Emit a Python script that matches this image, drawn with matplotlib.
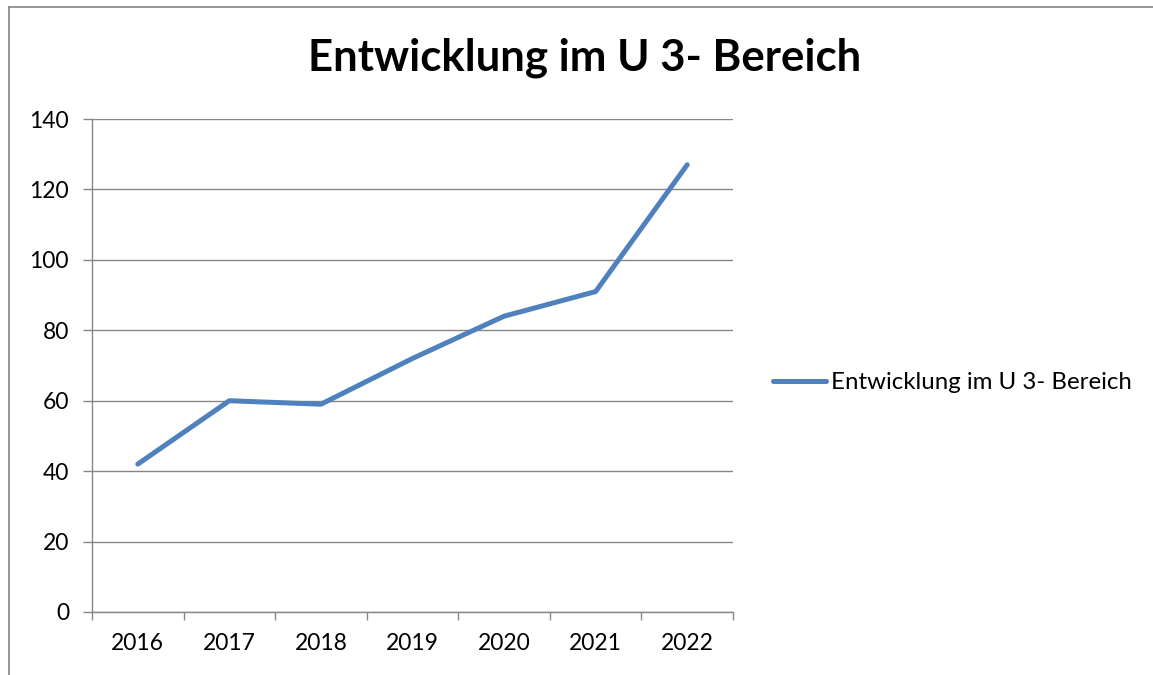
import matplotlib
matplotlib.use("Agg")
import matplotlib.pyplot as plt
from matplotlib.lines import Line2D
import numpy as np

years = ["2016", "2017", "2018", "2019", "2020", "2021", "2022"]
values = [42, 60, 59, 72, 84, 91, 127]
series_name = "Entwicklung im U 3- Bereich"
title = "Entwicklung im U 3- Bereich"

plt.rcParams['font.family'] = ['Lato', 'DejaVu Sans']

W, H = 1153, 675
fig = plt.figure(figsize=(W/100, H/100), dpi=100)
ax = fig.add_axes([92/W, 1 - 612/H, (733-92)/W, (612-119)/H])

grey = "#868686"
x = np.arange(len(years))
line, = ax.plot(x, values, color="#4F81BD", lw=3.6, solid_capstyle="round",
                solid_joinstyle="round", label=series_name)

ax.set_xlim(-0.5, len(years) - 0.5)
ax.set_ylim(0, 140)
ax.set_yticks(np.arange(0, 141, 20))
ax.set_xticks(x)
ax.set_xticklabels(years)
ax.set_xticks(np.arange(-0.5, len(years), 1.0), minor=True)

ax.yaxis.grid(True, color=grey, lw=1.0)
ax.set_axisbelow(True)
for s in ["top", "right"]:
    ax.spines[s].set_visible(False)
for s in ["left", "bottom"]:
    ax.spines[s].set_color(grey)
    ax.spines[s].set_linewidth(1.0)

ax.tick_params(axis="y", length=6.5, width=1.0, color=grey, labelsize=16.5, pad=10)
ax.tick_params(axis="x", which="major", length=0, labelsize=16.5, pad=15)
ax.tick_params(axis="x", which="minor", length=6, width=1.0, color=grey)

fig.text((307+862)/2/W, 1 - 58/H, title, ha="center", va="center",
         fontsize=31.5, fontweight="bold")

leg = fig.legend(handles=[line], loc="center left",
                 bbox_to_anchor=(773/W, 1 - 383/H), frameon=False,
                 fontsize=17.3, handlelength=2.2, handletextpad=0.2,
                 borderpad=0, borderaxespad=0)

# chart area border (left and top visible)
fig.add_artist(Line2D([9/W, 9/W], [0, 1 - 7/H], color=grey, lw=1.2, transform=fig.transFigure))
fig.add_artist(Line2D([9/W, 1], [1 - 7/H, 1 - 7/H], color=grey, lw=1.2, transform=fig.transFigure))

fig.savefig("out.png", dpi=100)
